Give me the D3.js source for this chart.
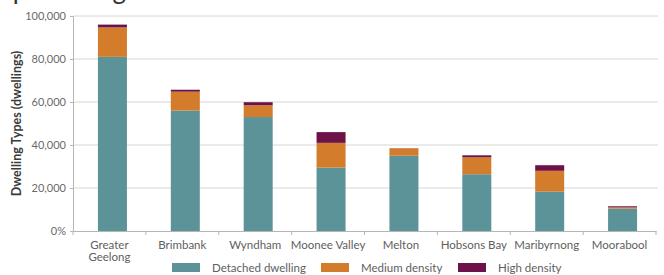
<!DOCTYPE html>
<html>
<head>
<meta charset="utf-8">
<script src="https://cdn.jsdelivr.net/npm/d3@7"></script>
<style>
  body { margin: 0; background: #fff; }
  svg { display: block; font-family: Lato, "Open Sans", sans-serif; }
</style>
</head>
<body>
<svg id="chart" width="664" height="275"></svg>
<script>
// data
var councils = ["Greater Geelong", "Brimbank", "Wyndham", "Moonee Valley", "Melton", "Hobsons Bay", "Maribyrnong", "Moorabool"];
var detached = [81000, 56000, 53000, 29500, 35000, 26400, 18300, 10400];
var medium   = [13700,  8800,  5500, 11500,  3400,  7900,  9700,   600];
var high     = [ 1300,   900,  1400,  5000,   100,   900,  2600,   500];
var seriesNames = ["Detached dwelling", "Medium density", "High density"];
var yTicks = [0, 20000, 40000, 60000, 80000, 100000];

var colors = d3.scaleOrdinal()
  .domain(seriesNames)
  .range(["#5b9399", "#d27c2c", "#6c1249"]);

var svg = d3.select("#chart");
var margin = { top: 16, left: 73, right: 8, bottom: 44 };
var width = 664 - margin.left - margin.right,
    height = 275 - margin.top - margin.bottom;

var rows = councils.map(function(c, i) {
  return { name: c, "Detached dwelling": detached[i], "Medium density": medium[i], "High density": high[i] };
});
var stacked = d3.stack().keys(seriesNames)(rows);

var x = d3.scaleBand().domain(councils).range([0, width]).paddingInner(0).paddingOuter(0);
var y = d3.scaleLinear().domain([0, 100000]).range([height, 0]);

// title sits above the crop, only descenders show
svg.append("text")
  .attr("x", -17).attr("y", -1)
  .style("font-size", "26px")
  .style("fill", "#333")
  .text("Population growth");

var g = svg.append("g").attr("transform", "translate(" + margin.left + "," + margin.top + ")");

// gridlines
g.append("g").selectAll("line")
  .data(yTicks.filter(function(d) { return d > 0; }))
  .join("line")
    .attr("x1", 0).attr("x2", width + 2)
    .attr("y1", function(d) { return y(d); })
    .attr("y2", function(d) { return y(d); })
    .attr("stroke", "#d6d6d6")
    .attr("stroke-width", 1);

// y axis
var yAxis = g.append("g")
  .call(d3.axisLeft(y).tickValues(yTicks).tickSize(3).tickPadding(4)
    .tickFormat(function(d) { return d === 0 ? "0%" : d3.format(",")(d); }));
yAxis.select(".domain").attr("stroke", "#b5b5b5");
yAxis.selectAll(".tick line").attr("stroke", "#b5b5b5");
yAxis.selectAll("text").style("font-size", "11px").style("fill", "#6a6a6a").style("font-family", "Lato, sans-serif");

// bars
var barW = 29;
g.append("g").selectAll("g")
  .data(stacked)
  .join("g")
    .attr("fill", function(d) { return colors(d.key); })
  .selectAll("rect")
  .data(function(d) { return d; })
  .join("rect")
    .attr("x", function(d) { return x(d.data.name) + x.bandwidth() / 2 - barW / 2 + 3; })
    .attr("width", barW)
    .attr("y", function(d) { return y(d[1]); })
    .attr("height", function(d) { return Math.max(0, y(d[0]) - y(d[1])); });

// x axis
var xAxis = g.append("g").attr("transform", "translate(0," + height + ")")
  .call(d3.axisBottom(x).tickSize(0).tickFormat(""));
xAxis.select(".domain").attr("stroke", "#b5b5b5");
xAxis.selectAll(".tick").remove();

g.append("g").selectAll("line")
  .data(d3.range(councils.length + 1))
  .join("line")
    .attr("x1", function(i) { return i * x.step(); })
    .attr("x2", function(i) { return i * x.step(); })
    .attr("y1", height).attr("y2", height + 4)
    .attr("stroke", "#b5b5b5");

// category labels, wrapped to two lines where needed
var labels = g.append("g").selectAll("text")
  .data(councils)
  .join("text")
    .attr("text-anchor", "middle")
    .attr("x", function(d) { return x(d) + x.bandwidth() / 2; })
    .attr("y", height + 18)
    .style("font-size", "11.5px")
    .style("fill", "#606060");
labels.each(function(d) {
  var t = d3.select(this);
  var parts = d === "Greater Geelong" ? ["Greater", "Geelong"] : [d];
  parts.forEach(function(p, i) {
    t.append("tspan").attr("x", t.attr("x")).attr("dy", i === 0 ? 0 : 12).text(p);
  });
});

// y axis title
svg.append("text")
  .attr("transform", "translate(21," + (margin.top + height / 2) + ") rotate(-90)")
  .attr("text-anchor", "middle")
  .style("font-size", "12.5px")
  .style("font-weight", "bold")
  .style("fill", "#3a3a3a")
  .text("Dwelling Types (dwellings)");

// legend
var legendX = [172, 321, 458];
var legend = svg.append("g").selectAll("g")
  .data(seriesNames)
  .join("g")
    .attr("transform", function(d, i) { return "translate(" + legendX[i] + ",263)"; });
legend.append("rect")
  .attr("width", 28).attr("height", 9)
  .attr("fill", function(d) { return colors(d); });
legend.append("text")
  .attr("x", 40).attr("y", 8.5)
  .style("font-size", "11.5px")
  .style("fill", "#606060")
  .text(function(d) { return d; });
</script>
</body>
</html>
